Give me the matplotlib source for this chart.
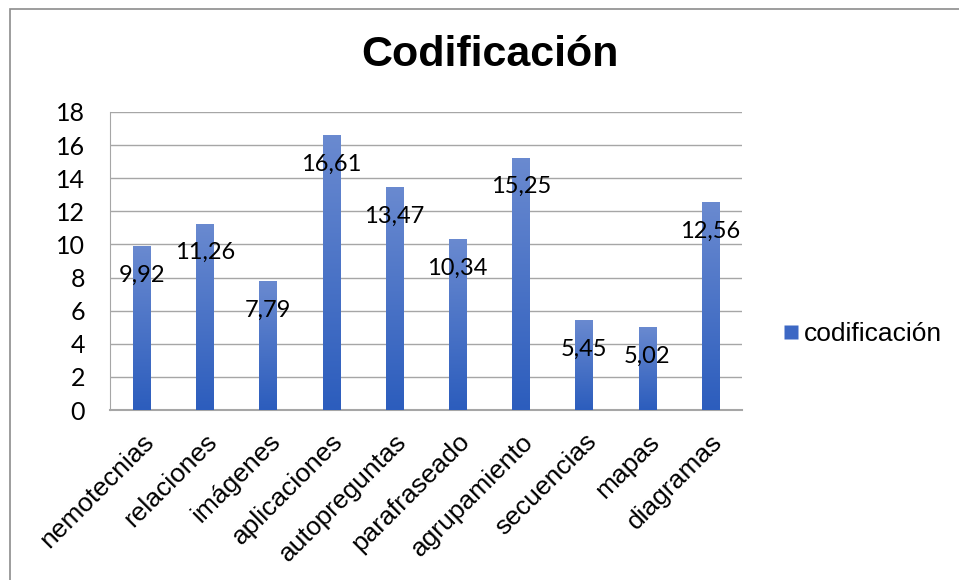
import numpy as np
import matplotlib.pyplot as plt
from matplotlib.patches import Rectangle
from matplotlib.lines import Line2D
from matplotlib.colors import LinearSegmentedColormap

categorias = ["nemotecnias", "relaciones", "imágenes", "aplicaciones", "autopreguntas",
              "parafraseado", "agrupamiento", "secuencias", "mapas", "diagramas"]
valores = [9.92, 11.26, 7.79, 16.61, 13.47, 10.34, 15.25, 5.45, 5.02, 12.56]
etiquetas = ["9,92", "11,26", "7,79", "16,61", "13,47", "10,34", "15,25", "5,45", "5,02", "12,56"]
serie = "codificación"
titulo = "Codificación"

fig = plt.figure(figsize=(9.59, 5.80), dpi=100)
ax = fig.add_axes([0.1147, 0.2931, 0.659, 0.5138])

# borde exterior del gráfico
fig.patches.append(Rectangle((10 / 959, -0.05), 1.0, 1 - 9 / 580 + 0.05,
                             transform=fig.transFigure, fill=False,
                             edgecolor="#8c8c8c", linewidth=1.2))

x = np.arange(len(categorias))
barras = ax.bar(x, valores, width=0.27, color="#3d68c4", zorder=2)

# degradado vertical en cada barra
grad = np.linspace(0, 1, 256).reshape(-1, 1)
cmap = LinearSegmentedColormap.from_list("azul", ["#2c5dbd", "#6a8ad0"])
for b in barras:
    x0, w, h = b.get_x(), b.get_width(), b.get_height()
    im = ax.imshow(grad, cmap=cmap, origin="lower", aspect="auto",
                   extent=(x0, x0 + w, 0, h), zorder=3)
    im.set_clip_path(b)

for xi, v, t in zip(x, valores, etiquetas):
    ax.annotate(t, (xi, v), xytext=(0, -21), textcoords="offset points",
                ha="center", va="center", fontsize=17, family="Lato", zorder=4)

ax.set_xlim(-0.5, len(categorias) - 0.5)
ax.set_ylim(0, 18)
ax.set_yticks(range(0, 19, 2))
ax.yaxis.grid(True, color="#a6a6a6", linewidth=1.0, zorder=0)
ax.set_axisbelow(True)
for s in ["top", "right"]:
    ax.spines[s].set_visible(False)
ax.spines["left"].set_color("#a6a6a6")
ax.spines["bottom"].set_color("#a6a6a6")
ax.spines["bottom"].set_linewidth(1.5)
ax.tick_params(axis="both", length=0)
ax.tick_params(axis="y", pad=18)
for lab in ax.get_yticklabels():
    lab.set_family("Lato")
    lab.set_fontsize(18)

ax.set_xticks(x)
ax.set_xticklabels(categorias, rotation=45, ha="right", rotation_mode="anchor",
                   fontsize=19, family="Liberation Sans")
ax.tick_params(axis="x", pad=14)

fig.text(0.511, 0.905, titulo, ha="center", va="center", fontsize=31,
         fontweight="bold", family="Liberation Sans")

handle = Line2D([], [], marker="s", linestyle="none", markersize=10,
                markerfacecolor="#3d68c4", markeredgecolor="none")
fig.legend([handle], [serie], loc="center left", bbox_to_anchor=(0.8, 0.424),
           frameon=False, prop={"family": "Liberation Sans", "size": 19},
           handletextpad=0.1, handlelength=0.8, borderpad=0)

fig.savefig("out.png", dpi=100)
